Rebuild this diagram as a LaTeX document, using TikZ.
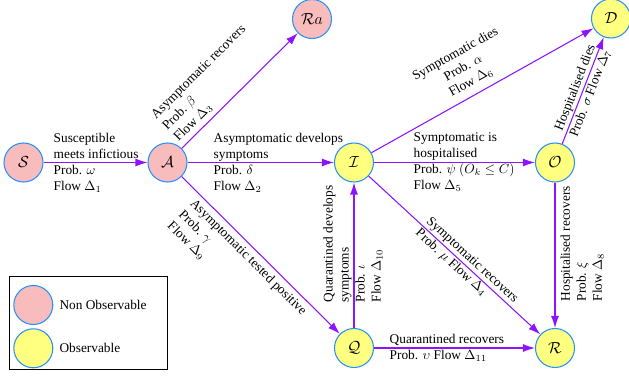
\documentclass[tikz,border=0pt]{standalone}
\usepackage{fontspec}
\setmainfont{Liberation Serif}
\usetikzlibrary{arrows.meta}
\definecolor{nonobs}{RGB}{249,188,188}
\definecolor{obs}{RGB}{255,255,128}
\definecolor{rim}{RGB}{40,145,250}
\definecolor{flow}{RGB}{140,20,255}
\tikzset{
  state/.style={circle, draw=rim, line width=0.8pt, minimum size=29.25pt, inner sep=0pt, font=\large},
  hidden/.style={state, fill=nonobs},
  seen/.style={state, fill=obs},
  flowarrow/.style={draw=flow, line width=0.8pt, -{Latex[length=9pt,width=6pt]}},
  lab/.style={align=left, inner sep=3.33pt, text=black},
}
\begin{document}
\begin{tikzpicture}[x=0.75pt, y=-0.75pt]
\useasboundingbox (0,0) rectangle (629,377);
% states
\node[hidden] (S)  at (23.5,162.5) {$\mathcal{S}$};
\node[hidden] (A)  at (167.5,162.5) {$\mathcal{A}$};
\node[hidden] (Ra) at (312,19) {$\mathcal{R}a$};
\node[seen]   (I)  at (354,162.5) {$\mathcal{I}$};
\node[seen]   (O)  at (555,162.5) {$\mathcal{O}$};
\node[seen]   (D)  at (611,18.5) {$\mathcal{D}$};
\node[seen]   (Q)  at (354,348) {$\mathcal{Q}$};
\node[seen]   (R)  at (555,348) {$\mathcal{R}$};
% flows
\draw[flowarrow] (S) -- (A);
\draw[flowarrow] (A) -- (I);
\draw[flowarrow] (A) -- (Ra);
\draw[flowarrow] (A) -- (Q);
\draw[flowarrow] (I) -- (O);
\draw[flowarrow] (I) -- (D);
\draw[flowarrow] (I) -- (R);
\draw[flowarrow] (O) -- (D);
\draw[flowarrow] (O) -- (R);
\draw[flowarrow] (Q) -- (I);
\draw[flowarrow] (Q) -- (R);
% labels
\node[lab, anchor=west] (l1) at (49,162.5) {Susceptible\\meets infictious\\Prob. $\omega$\\Flow $\Delta_1$};
\node[lab, anchor=west] (l2) at (209,162.5) {Asymptomatic develops\\symptoms\\Prob. $\delta$\\Flow $\Delta_2$};
\node[lab, anchor=west] (l5) at (409,162.5) {Symptomatic is\\hospitalised\\Prob. $\psi$ $(O_k \leq C)$\\Flow $\Delta_5$};
\path (A.center) -- (Ra.center) node[lab, pos=0.087, sloped, anchor=south west] (l3) {Asymptomatic recovers\\Prob. $\beta$\\Flow $\Delta_3$};
\path (A.center) -- (Q.center) node[lab, pos=0.153, sloped, anchor=north west] (l9) {Asymptomatic tested positive\\Prob. $\gamma$\\Flow $\Delta_9$};
\path (I.center) -- (D.center) node[lab, align=center, pos=0.48, sloped, above=2pt] (l6) {Symptomatic dies\\Prob. $\alpha$\\Flow $\Delta_6$};
\path (O.center) -- (D.center) node[lab, midway, sloped] (l7) {Hospitalised dies\\Prob. $\sigma$ Flow $\Delta_7$};
\path (I.center) -- (R.center) node[lab, pos=0.56, sloped] (l4) {Symptomatic recovers\\Prob. $\mu$ Flow $\Delta_4$};
\node[lab, rotate=90, anchor=west] (l10) at (353,307) {Quarantined develops\\symptoms\\Prob. $\iota$\\Flow $\Delta_{10}$};
\node[lab, rotate=90, anchor=north west] (l8) at (556,306) {Hospitalised recovers\\Prob. $\xi$\\Flow $\Delta_8$};
\node[lab, anchor=west] (l11) at (385,348) {Quarantined recovers\\Prob. $\upsilon$ Flow $\Delta_{11}$};
% legend
\draw[line width=0.75pt] (9.3,276.7) rectangle (167.3,370);
\node[hidden] (key1) at (33.3,305) {};
\node[seen]   (key2) at (33.3,348.3) {};
\node[anchor=west, inner sep=0pt] (key1t) at (59.3,305) {Non Observable};
\node[anchor=west, inner sep=0pt] (key2t) at (59.3,348.3) {Observable};
\end{tikzpicture}
\end{document}
